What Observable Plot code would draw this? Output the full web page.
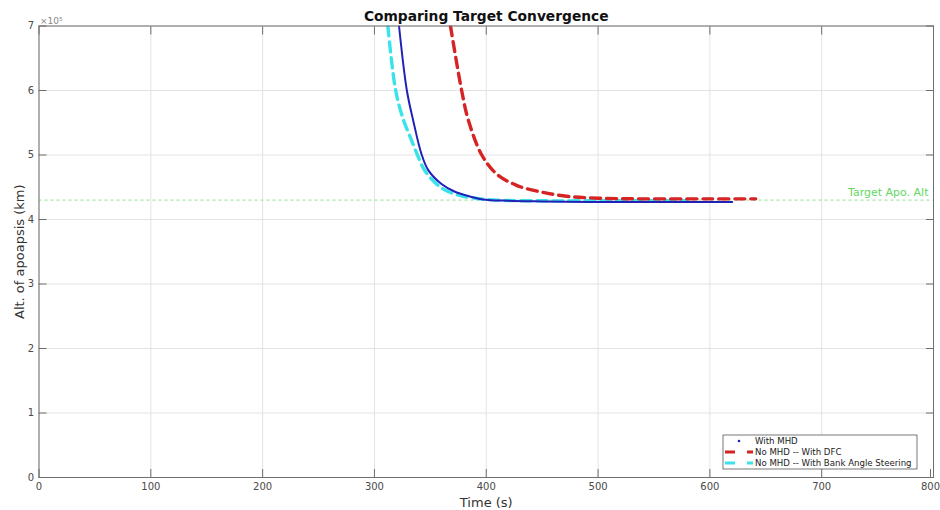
<!DOCTYPE html>
<html><head><meta charset="utf-8">
<script src="https://cdn.jsdelivr.net/npm/d3@7"></script>
<script src="https://cdn.jsdelivr.net/npm/@observablehq/plot@0.6"></script>
<style>body{margin:0;background:#fff;font-family:"DejaVu Sans",sans-serif}</style>
</head><body><div id="chart"></div>
<script>
// Data (altitude of apoapsis in units of 10^5 km, time in s)
const xTicks = [0, 100, 200, 300, 400, 500, 600, 700, 800];
const yTicks = [0, 1, 2, 3, 4, 5, 6, 7];
const targetAlt = 4.30;

const mhdTime = [322, 329, 334.6, 342, 348, 360, 372, 387, 397, 420, 450, 500, 560, 620];
const mhdAlt  = [7.0, 6.0, 5.54, 5.02, 4.77, 4.55, 4.43, 4.35, 4.31, 4.29, 4.28, 4.27, 4.27, 4.27];

const dfcTime = [368, 378, 384, 396, 409, 427, 448, 472, 500, 540, 600, 641];
const dfcAlt  = [7.0, 6.0, 5.54, 5.0, 4.71, 4.53, 4.43, 4.36, 4.33, 4.32, 4.32, 4.32];

const bankTime = [312, 319, 326, 332, 338, 345, 355, 364, 376, 390, 410, 450, 500, 580];
const bankAlt  = [7.0, 6.0, 5.54, 5.28, 5.02, 4.76, 4.56, 4.45, 4.375, 4.33, 4.30, 4.29, 4.29, 4.29];

const toRows = (ts, vs) => ts.map((t, i) => ({t, v: vs[i]}));
const mhd = toRows(mhdTime, mhdAlt);
const dfc = toRows(dfcTime, dfcAlt);
const bank = toRows(bankTime, bankAlt);

const colBlue = "#2121b8", colRed = "#d42424", colCyan = "#3ae3ea", colGreen = "#62d862";
const axisStyle = {stroke: "#6e6e6e", fontSize: 10, label: null};

const plot = Plot.plot({
  width: 940, height: 510,
  marginLeft: 38.5, marginRight: 7, marginTop: 25.5, marginBottom: 33,
  style: {fontFamily: "DejaVu Sans", fontSize: "10px", color: "#4a4a4a", background: "#fff"},
  x: {domain: [0, 800]},
  y: {domain: [0, 7]},
  marks: [
    Plot.gridX(xTicks, {stroke: "#e3e3e3", strokeOpacity: 1}),
    Plot.gridY(yTicks, {stroke: "#e3e3e3", strokeOpacity: 1}),
    Plot.ruleY([targetAlt], {stroke: "#a8e6a8", strokeWidth: 1.2, strokeDasharray: "3,3"}),
    Plot.text(["Target Apo. Alt"], {x: 800, y: targetAlt, textAnchor: "end", dx: -5, dy: -8, fill: colGreen, fontSize: 11}),
    Plot.line(bank, {x: "t", y: "v", stroke: colCyan, strokeWidth: 3.4, strokeDasharray: "10,6", curve: "catmull-rom", clip: true}),
    Plot.line(dfc, {x: "t", y: "v", stroke: colRed, strokeWidth: 3.4, strokeDasharray: "10,6", curve: "catmull-rom", clip: true}),
    Plot.line(mhd, {x: "t", y: "v", stroke: colBlue, strokeWidth: 2, curve: "catmull-rom", clip: true}),
    Plot.frame({stroke: "#6e6e6e", strokeWidth: 1}),
    Plot.axisX(xTicks.slice(0, -1), {...axisStyle, anchor: "bottom", tickSize: -8, tickPadding: 13}),
    Plot.axisX(xTicks.slice(-1), {...axisStyle, anchor: "bottom", tickSize: -8, tickPadding: 13, dx: -3}),
    Plot.axisX(xTicks, {...axisStyle, anchor: "top", tickSize: -8, text: null}),
    Plot.axisY(yTicks, {...axisStyle, anchor: "left", tickSize: -8, tickPadding: 13, tickFormat: d => String(d)}),
    Plot.axisY(yTicks, {...axisStyle, anchor: "right", tickSize: -8, text: null}),
    Plot.text(["Time (s)"], {frameAnchor: "bottom", lineAnchor: "middle", dy: 25, fontSize: 13, fill: "#333"}),
    Plot.text(["Alt. of apoapsis (km)"], {frameAnchor: "left", textAnchor: "middle", rotate: -90, dx: -19, fontSize: 13, fill: "#333"}),
    Plot.text(["×10⁵"], {frameAnchor: "top-left", textAnchor: "start", lineAnchor: "bottom", dx: 1, dy: -2, fontSize: 9, fill: "#888"}),
    Plot.text(["Comparing Target Convergence"], {frameAnchor: "top", lineAnchor: "middle", dy: -9, fontSize: 13.8, fontWeight: "bold", fill: "#111"})
  ]
});

document.getElementById("chart").append(plot);

// Legend (MATLAB style box, lower right)
const svg = d3.select(plot);
const lg = svg.append("g").attr("font-family", "DejaVu Sans").attr("font-size", 8.6).attr("text-anchor", "start");
lg.append("rect").attr("x", 723).attr("y", 435).attr("width", 194).attr("height", 34)
  .attr("fill", "#fff").attr("stroke", "#555").attr("stroke-width", 0.8);
const entries = [
  {label: "With MHD", type: "dot", color: colBlue},
  {label: "No MHD -- With DFC", type: "dash", color: colRed},
  {label: "No MHD -- With Bank Angle Steering", type: "dash", color: colCyan}
];
entries.forEach((e, i) => {
  const y = 441 + i * 11;
  if (e.type === "dot") {
    lg.append("circle").attr("cx", 739).attr("cy", y).attr("r", 1.3).attr("fill", e.color);
  } else {
    lg.append("line").attr("x1", 725).attr("x2", 753).attr("y1", y).attr("y2", y)
      .attr("stroke", e.color).attr("stroke-width", 3).attr("stroke-dasharray", "10,12");
  }
  lg.append("text").attr("x", 755).attr("y", y).attr("dy", "0.35em")
    .attr("text-anchor", "start").attr("fill", "#222").text(e.label);
});
</script></body></html>
